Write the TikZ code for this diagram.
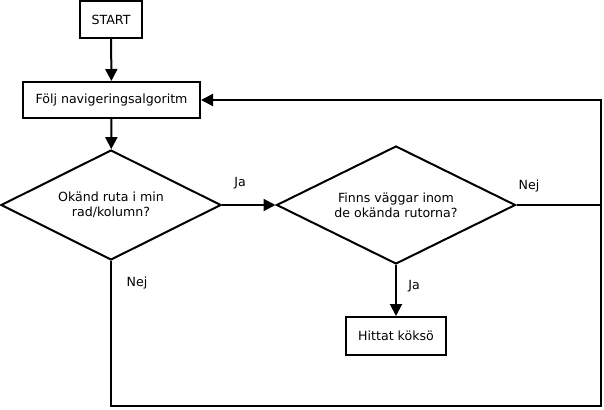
\documentclass[tikz,border=0pt]{standalone}
\usepackage{fontspec}
\setmainfont{DejaVu Sans}
\usetikzlibrary{shapes.geometric, arrows.meta, positioning}

\begin{document}
\begin{tikzpicture}[x=1pt, y=-1pt,
        every node/.style={align=center, font=\fontsize{12.6}{15}\selectfont},
        stepbox/.style={draw, line width=2pt, inner sep=0pt},
        choice/.style={draw, diamond, aspect=2, line width=2pt, inner sep=0pt},
        flow/.style={line width=2pt},
        arr/.style={line width=2pt, -{Triangle[width=12pt, length=12pt]}}]
        \useasboundingbox (0, 0) rectangle (604, 409);

        % Process boxes
        \node[stepbox, minimum width=62pt, minimum height=37pt] (start) at (111, 19.5) {START};
        \node[stepbox, minimum width=177pt, minimum height=36pt] (folj) at (111.5, 100) {Följ navigeringsalgoritm};
        \node[stepbox, minimum width=100pt, minimum height=38pt] (hittat) at (396, 336) {Hittat köksö};

        % Decisions
        \node[choice, minimum width=220pt, minimum height=110pt] (okand) at (111, 205) {Okänd ruta i min\\rad/kolumn?};
        \node[choice, minimum width=239pt, minimum height=118pt] (vaggar) at (396, 205) {Finns väggar inom\\de okända rutorna?};

        % Loop corners
        \coordinate (rmid) at (601, 205);
        \coordinate (rbot) at (601, 406);

        % Connections
        \draw[arr] (start) -- (folj);
        \draw[arr] (folj) -- (okand);
        \draw[arr] (okand.east) -- (vaggar.west);
        \draw[arr] (vaggar.south) -- (hittat);
        \draw[arr] (vaggar.east) -- (rmid) |- (folj.east);
        \draw[flow] (okand.south) |- (rbot) -- (rmid);

        % Labels
        \node (ja1) at (240, 183) {Ja};
        \node (nej1) at (529, 186) {Nej};
        \node (ja2) at (414, 286) {Ja};
        \node (nej2) at (137, 283) {Nej};

\end{tikzpicture}
\end{document}
